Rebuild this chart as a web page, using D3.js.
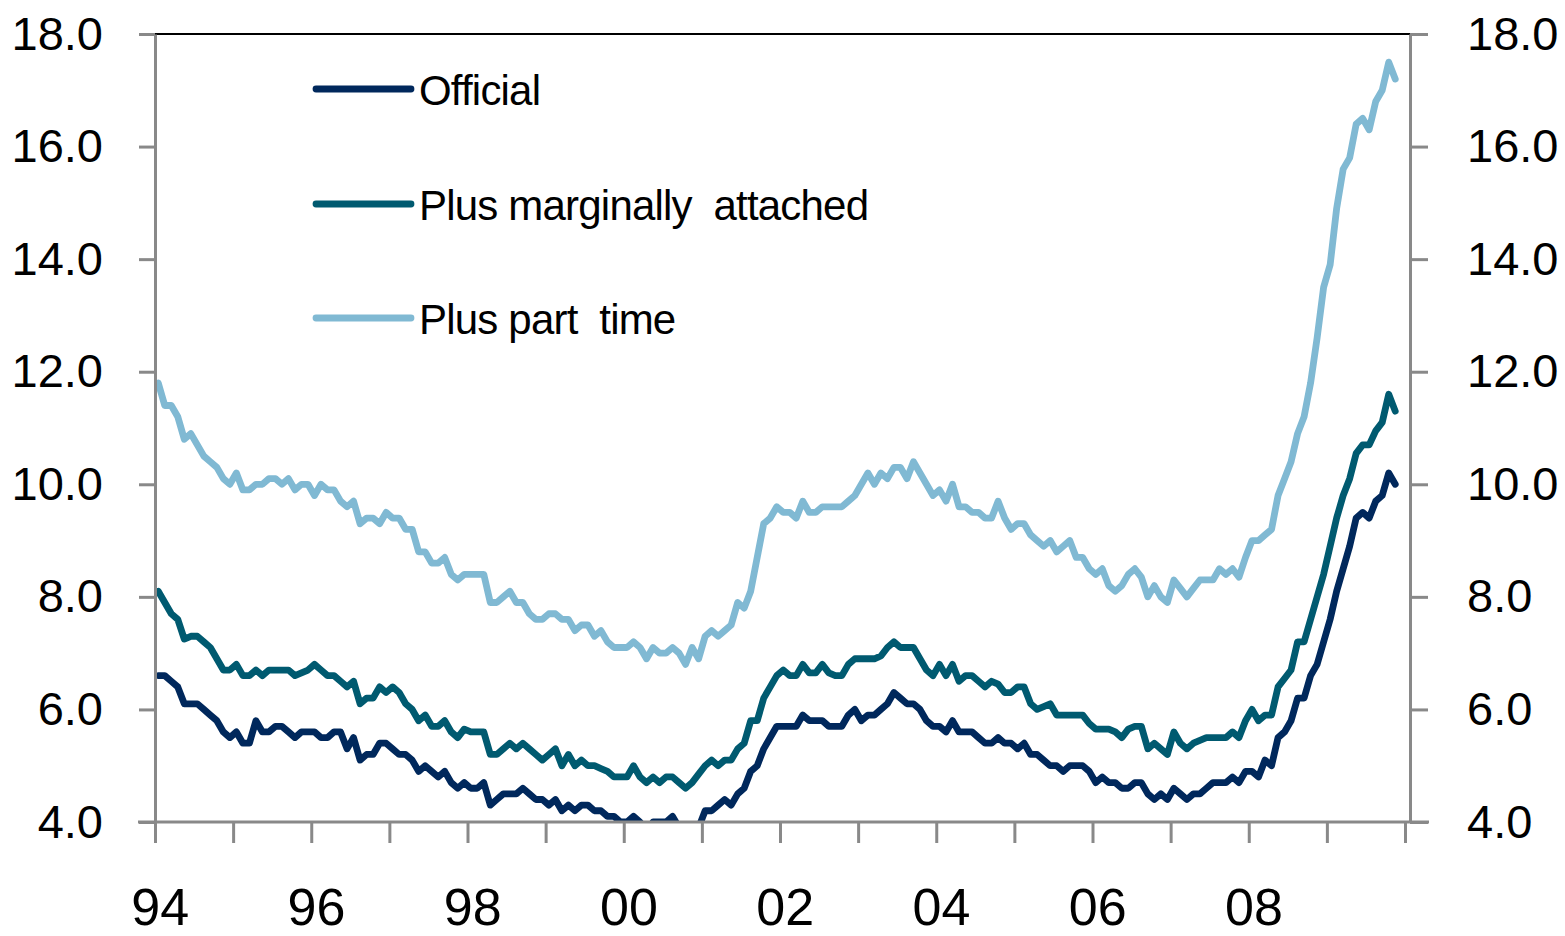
<!DOCTYPE html>
<html>
<head>
<meta charset="utf-8">
<script src="https://cdn.jsdelivr.net/npm/d3@7"></script>
<style>
  html, body { margin: 0; padding: 0; background: #ffffff; }
  svg { display: block; }
</style>
</head>
<body>
<svg id="chart" width="1565" height="936"></svg>
<script>
// monthly rates (%), Jan 1994 .. Nov 2009
const official = [
    6.6, 6.6, 6.5, 6.4, 6.1, 6.1, 6.1, 6.0, 5.9, 5.8, 5.6, 5.5,
    5.6, 5.4, 5.4, 5.8, 5.6, 5.6, 5.7, 5.7, 5.6, 5.5, 5.6, 5.6,
    5.6, 5.5, 5.5, 5.6, 5.6, 5.3, 5.5, 5.1, 5.2, 5.2, 5.4, 5.4,
    5.3, 5.2, 5.2, 5.1, 4.9, 5.0, 4.9, 4.8, 4.9, 4.7, 4.6, 4.7,
    4.6, 4.6, 4.7, 4.3, 4.4, 4.5, 4.5, 4.5, 4.6, 4.5, 4.4, 4.4,
    4.3, 4.4, 4.2, 4.3, 4.2, 4.3, 4.3, 4.2, 4.2, 4.1, 4.1, 4.0,
    4.0, 4.1, 4.0, 3.8, 4.0, 4.0, 4.0, 4.1, 3.9, 3.9, 3.9, 3.9,
    4.2, 4.2, 4.3, 4.4, 4.3, 4.5, 4.6, 4.9, 5.0, 5.3, 5.5, 5.7,
    5.7, 5.7, 5.7, 5.9, 5.8, 5.8, 5.8, 5.7, 5.7, 5.7, 5.9, 6.0,
    5.8, 5.9, 5.9, 6.0, 6.1, 6.3, 6.2, 6.1, 6.1, 6.0, 5.8, 5.7,
    5.7, 5.6, 5.8, 5.6, 5.6, 5.6, 5.5, 5.4, 5.4, 5.5, 5.4, 5.4,
    5.3, 5.4, 5.2, 5.2, 5.1, 5.0, 5.0, 4.9, 5.0, 5.0, 5.0, 4.9,
    4.7, 4.8, 4.7, 4.7, 4.6, 4.6, 4.7, 4.7, 4.5, 4.4, 4.5, 4.4,
    4.6, 4.5, 4.4, 4.5, 4.5, 4.6, 4.7, 4.7, 4.7, 4.8, 4.7, 4.9,
    4.9, 4.8, 5.1, 5.0, 5.5, 5.6, 5.8, 6.2, 6.2, 6.6, 6.8, 7.2,
    7.6, 8.1, 8.5, 8.9, 9.4, 9.5, 9.4, 9.7, 9.8, 10.2, 10.0
];

const marginal = [
    8.1, 7.9, 7.7, 7.6, 7.25, 7.3, 7.3, 7.2, 7.1, 6.9, 6.7, 6.7,
    6.8, 6.6, 6.6, 6.7, 6.6, 6.7, 6.7, 6.7, 6.7, 6.6, 6.65, 6.7,
    6.8, 6.7, 6.6, 6.6, 6.5, 6.4, 6.5, 6.1, 6.2, 6.2, 6.4, 6.3,
    6.4, 6.3, 6.1, 6.0, 5.8, 5.9, 5.7, 5.7, 5.8, 5.6, 5.5, 5.65,
    5.6, 5.6, 5.6, 5.2, 5.2, 5.3, 5.4, 5.3, 5.4, 5.3, 5.2, 5.1,
    5.2, 5.3, 5.0, 5.2, 5.0, 5.1, 5.0, 5.0, 4.95, 4.9, 4.8, 4.8,
    4.8, 5.0, 4.8, 4.7, 4.8, 4.7, 4.8, 4.8, 4.7, 4.6, 4.7, 4.85,
    5.0, 5.1, 5.0, 5.1, 5.1, 5.3, 5.4, 5.8, 5.8, 6.2, 6.4, 6.6,
    6.7, 6.6, 6.6, 6.8, 6.65, 6.65, 6.8, 6.65, 6.6, 6.6, 6.8, 6.9,
    6.9, 6.9, 6.9, 6.95, 7.1, 7.2, 7.1, 7.1, 7.1, 6.9, 6.7, 6.6,
    6.8, 6.6, 6.8, 6.5, 6.6, 6.6, 6.5, 6.4, 6.5, 6.45, 6.3, 6.3,
    6.4, 6.4, 6.1, 6.0, 6.05, 6.1, 5.9, 5.9, 5.9, 5.9, 5.9, 5.75,
    5.65, 5.65, 5.65, 5.6, 5.5, 5.65, 5.7, 5.7, 5.3, 5.4, 5.3, 5.2,
    5.6, 5.4, 5.3, 5.4, 5.45, 5.5, 5.5, 5.5, 5.5, 5.6, 5.5, 5.8,
    6.0, 5.8, 5.9, 5.9, 6.4, 6.55, 6.7, 7.2, 7.2, 7.6, 8.0, 8.4,
    8.9, 9.4, 9.8, 10.1, 10.55, 10.7, 10.7, 10.95, 11.1, 11.6, 11.3
];

const partTime = [
    11.8, 11.4, 11.4, 11.2, 10.8, 10.9, 10.7, 10.5, 10.4, 10.3, 10.1, 10.0,
    10.2, 9.9, 9.9, 10.0, 10.0, 10.1, 10.1, 10.0, 10.1, 9.9, 10.0, 10.0,
    9.8, 10.0, 9.9, 9.9, 9.7, 9.6, 9.7, 9.3, 9.4, 9.4, 9.3, 9.5,
    9.4, 9.4, 9.2, 9.2, 8.8, 8.8, 8.6, 8.6, 8.7, 8.4, 8.3, 8.4,
    8.4, 8.4, 8.4, 7.9, 7.9, 8.0, 8.1, 7.9, 7.9, 7.7, 7.6, 7.6,
    7.7, 7.7, 7.6, 7.6, 7.4, 7.5, 7.5, 7.3, 7.4, 7.2, 7.1, 7.1,
    7.1, 7.2, 7.1, 6.9, 7.1, 7.0, 7.0, 7.1, 7.0, 6.8, 7.1, 6.9,
    7.3, 7.4, 7.3, 7.4, 7.5, 7.9, 7.8, 8.1, 8.7, 9.3, 9.4, 9.6,
    9.5, 9.5, 9.4, 9.7, 9.5, 9.5, 9.6, 9.6, 9.6, 9.6, 9.7, 9.8,
    10.0, 10.2, 10.0, 10.2, 10.1, 10.3, 10.3, 10.1, 10.4, 10.2, 10.0, 9.8,
    9.9, 9.7, 10.0, 9.6, 9.6, 9.5, 9.5, 9.4, 9.4, 9.7, 9.4, 9.2,
    9.3, 9.3, 9.1, 9.0, 8.9, 9.0, 8.8, 8.9, 9.0, 8.7, 8.7, 8.5,
    8.4, 8.5, 8.2, 8.1, 8.2, 8.4, 8.5, 8.35, 8.0, 8.2, 8.0, 7.9,
    8.3, 8.15, 8.0, 8.15, 8.3, 8.3, 8.3, 8.5, 8.4, 8.5, 8.35, 8.7,
    9.0, 9.0, 9.1, 9.2, 9.8, 10.1, 10.4, 10.9, 11.2, 11.8, 12.6, 13.5,
    13.9, 14.9, 15.6, 15.8, 16.4, 16.5, 16.3, 16.8, 17.0, 17.5, 17.2
];

const seriesNames = ["Official", "Plus marginally  attached", "Plus part  time"];
const seriesColors = ["#00285c", "#005a70", "#80b9d3"];
const yTicks = [4, 6, 8, 10, 12, 14, 16, 18];
const xLabels = ["94", "96", "98", "00", "02", "04", "06", "08"];
const monthCount = 192; // category slots, Jan 1994 .. Dec 2009

const font = "'Liberation Sans', Arial, sans-serif";
const axisGrey = "#898989";

let svg = d3.select("#chart");

let plot = { left: 155, right: 1410, top: 34, bottom: 822 };

// Scales
let monthScale = d3.scaleBand()
    .domain(d3.range(monthCount))
    .range([plot.left, 1405]);
let tickScale = d3.scaleLinear()
    .domain([0, monthCount])
    .range([plot.left, 1405]);
let rateScale = d3.scaleLinear()
    .domain([4, 18])
    .range([plot.bottom, plot.top]);

let xOf = (i) => monthScale(i) + monthScale.bandwidth() / 2;

// Lines, clipped to the plot area
svg.append("clipPath").attr("id", "plot-clip")
    .append("rect")
    .attr("x", plot.left)
    .attr("y", plot.top)
    .attr("width", plot.right - plot.left)
    .attr("height", plot.bottom - plot.top);

let lineGen = d3.line()
    .x((d, i) => xOf(i))
    .y((d) => rateScale(d));

let series = [official, marginal, partTime];
let lines = svg.append("g").attr("clip-path", "url(#plot-clip)");
lines.selectAll("path")
    .data(series)
    .enter().append("path")
    .attr("d", (d) => lineGen(d))
    .attr("fill", "none")
    .attr("stroke", (d, i) => seriesColors[i])
    .attr("stroke-width", 6.8)
    .attr("stroke-linejoin", "round")
    .attr("stroke-linecap", "round");

// Top border of plot area
svg.append("line")
    .attr("x1", plot.left).attr("x2", plot.right)
    .attr("y1", plot.top).attr("y2", plot.top)
    .attr("stroke", "#000").attr("stroke-width", 2);

// Y axes (left and right)
let yLeft = d3.axisLeft(rateScale)
    .tickValues(yTicks)
    .tickFormat(d3.format(".1f"))
    .tickSize(16)
    .tickSizeOuter(0)
    .tickPadding(36);
let yRight = d3.axisRight(rateScale)
    .tickValues(yTicks)
    .tickFormat(d3.format(".1f"))
    .tickSize(18)
    .tickSizeOuter(0)
    .tickPadding(39);

let leftGroup = svg.append("g").attr("transform", "translate(" + plot.left + ",0)").call(yLeft);
let rightGroup = svg.append("g").attr("transform", "translate(" + plot.right + ",0)").call(yRight);

[leftGroup, rightGroup].forEach((g) => {
    g.select(".domain").attr("stroke", axisGrey).attr("stroke-width", 3);
    g.selectAll(".tick line").attr("stroke", axisGrey).attr("stroke-width", 3);
    g.selectAll(".tick text")
        .attr("fill", "#000")
        .style("font-family", font)
        .style("font-size", "47px");
});

// X axis: ticks every 12 months, labels every 2 years
let xAxis = d3.axisBottom(tickScale)
    .tickValues(d3.range(0, monthCount + 1, 12))
    .tickFormat("")
    .tickSize(21)
    .tickSizeOuter(0);
let xGroup = svg.append("g").attr("transform", "translate(0," + plot.bottom + ")").call(xAxis);
xGroup.select(".domain").remove();
xGroup.selectAll(".tick line").attr("stroke", axisGrey).attr("stroke-width", 3);
xGroup.append("line")
    .attr("x1", 138).attr("x2", 1429)
    .attr("y1", 0).attr("y2", 0)
    .attr("stroke", axisGrey).attr("stroke-width", 3);

svg.append("g").selectAll("text")
    .data(xLabels)
    .enter().append("text")
    .text((d) => d)
    .attr("x", (d, i) => xOf(i * 24) + 2)
    .attr("y", 925)
    .attr("text-anchor", "middle")
    .style("font-family", font)
    .style("font-size", "52px")
    .style("fill", "#000");

// Legend
let legendRows = [89, 204, 318];
let legend = svg.append("g");
legend.selectAll("line")
    .data(seriesNames)
    .enter().append("line")
    .attr("x1", 316).attr("x2", 411)
    .attr("y1", (d, i) => legendRows[i])
    .attr("y2", (d, i) => legendRows[i])
    .attr("stroke", (d, i) => seriesColors[i])
    .attr("stroke-width", 6.8)
    .attr("stroke-linecap", "round");
legend.selectAll("text")
    .data(seriesNames)
    .enter().append("text")
    .text((d) => d)
    .attr("x", 419)
    .attr("y", (d, i) => legendRows[i] + 16)
    .style("white-space", "pre")
    .style("letter-spacing", "-0.8px")
    .style("font-family", font)
    .style("font-size", "42px")
    .style("fill", "#000");
</script>
</body>
</html>
